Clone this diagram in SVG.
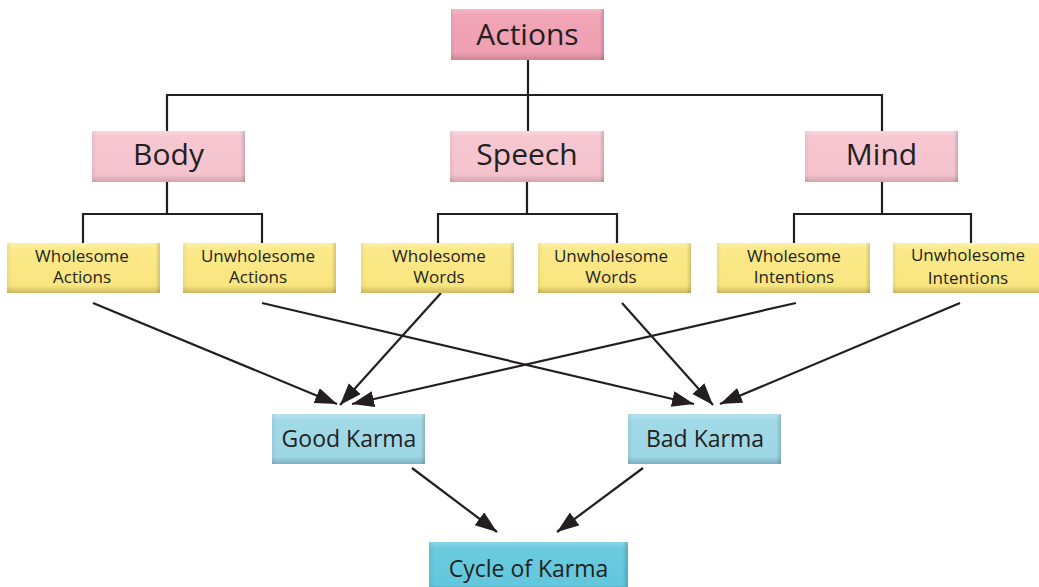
<svg xmlns="http://www.w3.org/2000/svg" width="1039" height="587" viewBox="0 0 1039 587">
  <defs>
    <linearGradient id="gPinkDark" x1="0" y1="0" x2="0" y2="1">
      <stop offset="0" stop-color="#f5b9c8"/>
      <stop offset="0.12" stop-color="#f1a5b7"/>
      <stop offset="0.85" stop-color="#ef9fb2"/>
      <stop offset="1" stop-color="#c98797"/>
    </linearGradient>
    <linearGradient id="gPink" x1="0" y1="0" x2="0" y2="1">
      <stop offset="0" stop-color="#f9d6de"/>
      <stop offset="0.12" stop-color="#f6c7d1"/>
      <stop offset="0.85" stop-color="#f5c3ce"/>
      <stop offset="1" stop-color="#d1a3ad"/>
    </linearGradient>
    <linearGradient id="gYellow" x1="0" y1="0" x2="0" y2="1">
      <stop offset="0" stop-color="#fdf0a6"/>
      <stop offset="0.12" stop-color="#fbe98a"/>
      <stop offset="0.85" stop-color="#f9e57f"/>
      <stop offset="1" stop-color="#cdb860"/>
    </linearGradient>
    <linearGradient id="gBlue" x1="0" y1="0" x2="0" y2="1">
      <stop offset="0" stop-color="#b8e3ee"/>
      <stop offset="0.12" stop-color="#a2d9e7"/>
      <stop offset="0.85" stop-color="#9dd6e5"/>
      <stop offset="1" stop-color="#7fb2c0"/>
    </linearGradient>
    <linearGradient id="gTeal" x1="0" y1="0" x2="0" y2="1">
      <stop offset="0" stop-color="#8ed7e7"/>
      <stop offset="0.12" stop-color="#6acbdf"/>
      <stop offset="0.85" stop-color="#63c7dd"/>
      <stop offset="1" stop-color="#4fa5b8"/>
    </linearGradient>
    <linearGradient id="gSide" x1="0" y1="0" x2="1" y2="0">
      <stop offset="0" stop-color="#000" stop-opacity="0.06"/>
      <stop offset="0.03" stop-color="#000" stop-opacity="0"/>
      <stop offset="0.97" stop-color="#000" stop-opacity="0"/>
      <stop offset="1" stop-color="#000" stop-opacity="0.16"/>
    </linearGradient>
    <marker id="arrow" markerUnits="userSpaceOnUse" markerWidth="24" markerHeight="18" refX="22" refY="8" orient="auto">
      <path d="M0,0 L22,8 L0,16 Z" fill="#231f20"/>
    </marker>
  </defs>
  <style>
    .lbl { font-family: "Open Sans", "Liberation Sans", sans-serif; fill: #231f20; text-anchor: middle; }
    .big { font-size: 30px; }
    .mid { font-size: 23px; }
    .small { font-size: 17px; }
    .side { fill: url(#gSide); }
    .tree { fill: none; stroke: #231f20; stroke-width: 2.2; }
    .arr { fill: none; stroke: #231f20; stroke-width: 2.2; marker-end: url(#arrow); }
  </style>

  <rect width="1039" height="587" fill="#ffffff"/>

  <!-- tree lines -->
  <g id="connectors">
    <path class="tree" d="M528,60 V95 M167,131 V95 H882 V131 M528,95 V131"/>
    <path class="tree" d="M167,182 V214 M83,243 V214 H262 V243"/>
    <path class="tree" d="M527,182 V214 M438,243 V214 H617 V243"/>
    <path class="tree" d="M882,182 V214 M794,243 V214 H971 V243"/>
    <line class="arr" x1="93" y1="303" x2="337" y2="404"/>
    <line class="arr" x1="441" y1="293" x2="340" y2="405"/>
    <line class="arr" x1="796" y1="303" x2="352" y2="404"/>
    <line class="arr" x1="262" y1="303" x2="694" y2="404"/>
    <line class="arr" x1="622" y1="303" x2="713" y2="405"/>
    <line class="arr" x1="960" y1="303" x2="720" y2="404"/>
    <line class="arr" x1="412" y1="468" x2="497" y2="532"/>
    <line class="arr" x1="643" y1="468" x2="557" y2="532"/>
  </g>

  <g id="actions">
    <rect x="451" y="9" width="153" height="51" fill="url(#gPinkDark)"/>
    <rect class="side" x="451" y="9" width="153" height="51"/>
    <text class="lbl big" x="527.5" y="45">Actions</text>
  </g>
  <g id="body">
    <rect x="92" y="131" width="153" height="51" fill="url(#gPink)"/>
    <rect class="side" x="92" y="131" width="153" height="51"/>
    <text class="lbl big" x="168.5" y="165">Body</text>
  </g>
  <g id="speech">
    <rect x="450" y="131" width="154" height="51" fill="url(#gPink)"/>
    <rect class="side" x="450" y="131" width="154" height="51"/>
    <text class="lbl big" x="527" y="165">Speech</text>
  </g>
  <g id="mind">
    <rect x="805" y="131" width="153" height="51" fill="url(#gPink)"/>
    <rect class="side" x="805" y="131" width="153" height="51"/>
    <text class="lbl big" x="881.5" y="165">Mind</text>
  </g>

  <g id="wholesome-actions">
    <rect x="7" y="243" width="153" height="50" fill="url(#gYellow)"/>
    <rect class="side" x="7" y="243" width="153" height="50"/>
    <text class="lbl small" x="82" y="262">Wholesome</text>
    <text class="lbl small" x="82" y="283">Actions</text>
  </g>
  <g id="unwholesome-actions">
    <rect x="183" y="243" width="153" height="50" fill="url(#gYellow)"/>
    <rect class="side" x="183" y="243" width="153" height="50"/>
    <text class="lbl small" x="258" y="262">Unwholesome</text>
    <text class="lbl small" x="258" y="283">Actions</text>
  </g>
  <g id="wholesome-words">
    <rect x="361" y="243" width="153" height="50" fill="url(#gYellow)"/>
    <rect class="side" x="361" y="243" width="153" height="50"/>
    <text class="lbl small" x="439" y="262">Wholesome</text>
    <text class="lbl small" x="439" y="283">Words</text>
  </g>
  <g id="unwholesome-words">
    <rect x="538" y="243" width="153" height="50" fill="url(#gYellow)"/>
    <rect class="side" x="538" y="243" width="153" height="50"/>
    <text class="lbl small" x="611" y="262">Unwholesome</text>
    <text class="lbl small" x="611" y="283">Words</text>
  </g>
  <g id="wholesome-intentions">
    <rect x="717" y="243" width="153" height="50" fill="url(#gYellow)"/>
    <rect class="side" x="717" y="243" width="153" height="50"/>
    <text class="lbl small" x="794" y="262">Wholesome</text>
    <text class="lbl small" x="794" y="283">Intentions</text>
  </g>
  <g id="unwholesome-intentions">
    <rect x="893" y="243" width="153" height="50" fill="url(#gYellow)"/>
    <rect class="side" x="893" y="243" width="153" height="50"/>
    <text class="lbl small" x="968" y="261">Unwholesome</text>
    <text class="lbl small" x="968" y="284">Intentions</text>
  </g>

  <g id="good-karma">
    <rect x="272" y="414" width="153" height="50" fill="url(#gBlue)"/>
    <rect class="side" x="272" y="414" width="153" height="50"/>
    <text class="lbl mid" x="349" y="447">Good Karma</text>
  </g>
  <g id="bad-karma">
    <rect x="628" y="414" width="153" height="50" fill="url(#gBlue)"/>
    <rect class="side" x="628" y="414" width="153" height="50"/>
    <text class="lbl mid" x="705" y="447">Bad Karma</text>
  </g>
  <g id="cycle-of-karma">
    <rect x="429" y="542" width="199" height="50" fill="url(#gTeal)"/>
    <rect class="side" x="429" y="542" width="199" height="50"/>
    <text class="lbl mid" x="528.5" y="577">Cycle of Karma</text>
  </g>
</svg>
